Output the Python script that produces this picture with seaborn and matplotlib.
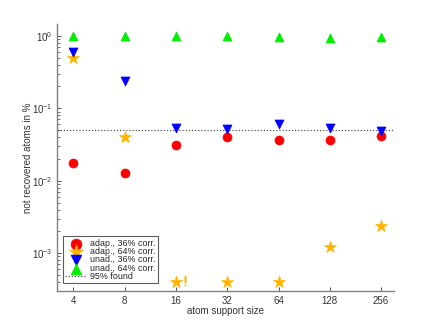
"""Recovery of atoms vs. atom support size (log-log scatter)."""

import matplotlib

matplotlib.use("Agg")
import matplotlib.pyplot as plt
import matplotlib.ticker as mticker
import numpy as np
import pandas as pd
import seaborn as sns

support_sizes = [4, 8, 16, 32, 64, 128, 256]
adap_36 = [0.0175, 0.0129, 0.031, 0.040, 0.036, 0.036, 0.042]
adap_64 = [0.50, 0.040, 0.0004, 0.0004, 0.0004, 0.00121, 0.0024]
unad_36 = [0.60, 0.24, 0.053, 0.052, 0.060, 0.054, 0.049]
unad_64 = [1.0, 1.0, 1.0, 1.0, 0.95, 0.92, 0.97]
found_level = 0.05

series_names = ["adap., 36% corr.", "adap., 64% corr.", "unad., 36% corr.", "unad., 64% corr."]
series_values = [adap_36, adap_64, unad_36, unad_64]
colors = ["#ff0000", "#ffb400", "#0000ff", "#00ee00"]
markers = ["o", "*", "v", "^"]
sizes = [42, 80, 42, 42]

sns.set_style("ticks")
plt.rcParams["font.family"] = ["Liberation Sans", "DejaVu Sans"]
plt.rcParams["font.size"] = 7

df = pd.DataFrame(
    {
        "size": np.tile(support_sizes, len(series_names)),
        "value": np.concatenate(series_values),
        "series": np.repeat(series_names, len(support_sizes)),
    }
)

fig, ax = plt.subplots(figsize=(4.36, 3.27), dpi=100)
fig.subplots_adjust(left=0.131, right=0.904, top=0.927, bottom=0.11)

for name, color, marker, s in zip(series_names, colors, markers, sizes):
    sns.scatterplot(
        data=df[df["series"] == name], x="size", y="value", ax=ax,
        color=color, marker=marker, s=s, edgecolor=color, linewidth=0.5,
        label=name, zorder=3,
    )

ax.axhline(found_level, color="#555555", linestyle=(0, (1, 1.5)), linewidth=0.9, label="95% found", zorder=2)
ax.text(16 * 1.09, 0.0004, "!", color="#ffb400", fontsize=11, fontweight="bold",
        va="center", ha="left", zorder=4)

ax.set_xscale("log", base=2)
ax.set_yscale("log")
ax.set_xlim(3.22, 305)
ax.set_ylim(3.0e-4, 1.46)
ax.set_xticks(support_sizes)
ax.xaxis.set_major_formatter(mticker.FixedFormatter([str(v) for v in support_sizes]))
ax.xaxis.set_minor_locator(mticker.NullLocator())
ax.set_yticks([1e-3, 1e-2, 1e-1, 1e0])
ax.yaxis.set_minor_locator(mticker.LogLocator(base=10, subs=np.arange(2, 10)))
ax.yaxis.set_minor_formatter(mticker.NullFormatter())

ax.set_xlabel("atom support size", color="#333333", labelpad=0)
ax.set_ylabel("not recovered atoms in %", color="#333333", labelpad=-1)

sns.despine(ax=ax)
for side in ["left", "bottom"]:
    ax.spines[side].set_color("#808080")
    ax.spines[side].set_linewidth(1.0)
ax.tick_params(axis="both", which="both", direction="in", colors="#333333", labelcolor="#333333")
ax.tick_params(axis="both", which="major", length=3, width=0.6)
ax.tick_params(axis="y", which="minor", length=2, width=0.5)

leg = ax.legend(
    loc="lower left", bbox_to_anchor=(0.018, 0.03), frameon=True, fancybox=False,
    edgecolor="#333333", fontsize=6.4, handlelength=2.3, handletextpad=0.5,
    labelspacing=-0.08, borderpad=0.25, borderaxespad=0, markerscale=1.2,
    handleheight=0.5,
)
leg.get_frame().set_linewidth(0.8)

fig.savefig("out.png", dpi=100)
